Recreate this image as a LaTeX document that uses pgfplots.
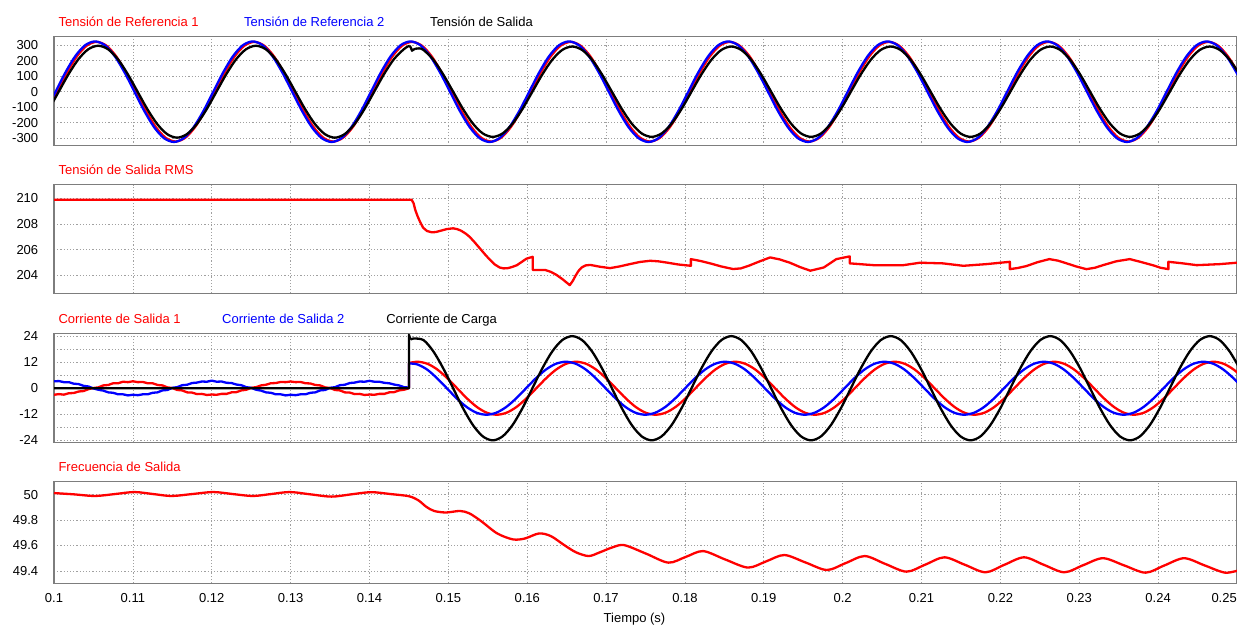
\documentclass[border=0pt]{standalone}
\usepackage{pgfplots}
\pgfplotsset{compat=1.18}
\usepackage{fontspec}
\setmainfont{Liberation Sans}
\definecolor{gridc}{RGB}{160,160,160}
\definecolor{framec}{RGB}{125,125,125}
\pgfplotsset{
  panel/.style={
    scale only axis, width=1183pt, xmin=100, xmax=250,
    anchor=north west,
    xtick={100,110,...,240}, xticklabels=\empty,
    grid=major,
    major grid style={gridc, line width=0.7pt, dash pattern=on 1.2pt off 2pt},
    minor grid style={gridc, line width=0.7pt, dash pattern=on 1.2pt off 2pt},
    major tick length=0pt, minor tick length=0pt,
    axis line style={framec, line width=1.3pt},
    tick label style={font=\fontsize{13}{13}\selectfont, inner sep=0pt},
    yticklabel style={anchor=east, xshift=-15.6pt},
    /pgf/number format/assume math mode=true,
  },
  ln/.style={line width=2.3pt, line join=round},
}
\newcommand{\tf}{\fontsize{13}{15}\selectfont}
\begin{document}
\begin{tikzpicture}
\useasboundingbox (0pt,0pt) rectangle (1237pt,-624pt);

% ---------------- Panel 1 ----------------
\begin{axis}[panel, at={(54pt,-36.3pt)}, height=109.4pt,
  ymin=-349, ymax=358, ytick={-300,-200,...,300}]
\addplot[ln, red, smooth] coordinates {
(99.15,-123.2)(100.4,0)(101.65,123.2)(102.9,227.7)(104.15,297.5)(105.4,322)(106.65,297.5)(107.9,227.7)(109.15,123.2)(110.4,0)(111.65,-123.2)(112.9,-227.7)(114.15,-297.5)(115.4,-322)(116.65,-297.5)(117.9,-227.7)(119.15,-123.2)
(120.4,0)(121.65,123.2)(122.9,227.7)(124.15,297.5)(125.4,322)(126.65,297.5)(127.9,227.7)(129.15,123.2)(130.4,0)(131.65,-123.2)(132.9,-227.7)(134.15,-297.5)(135.4,-322)(136.65,-297.5)(137.9,-227.7)(139.15,-123.2)
(140.4,0)(141.65,123.2)(142.9,227.7)(144.15,297.5)(145.4,322)(146.65,297.5)(147.9,227.7)(149.15,123.2)(150.41,0)(151.66,-123.2)(152.92,-227.7)(154.17,-297.5)(155.43,-322)(156.68,-297.5)(157.94,-227.7)(159.2,-123.2)
(160.46,0)(161.72,123.2)(162.98,227.7)(164.24,297.5)(165.5,322)(166.76,297.5)(168.02,227.7)(169.28,123.2)(170.54,0)(171.8,-123.2)(173.06,-227.7)(174.32,-297.5)(175.58,-322)(176.84,-297.5)(178.11,-227.7)(179.37,-123.2)
(180.63,0)(181.89,123.2)(183.16,227.7)(184.42,297.5)(185.68,322)(186.94,297.5)(188.21,227.7)(189.47,123.2)(190.73,0)(191.99,-123.2)(193.26,-227.7)(194.52,-297.5)(195.79,-322)(197.05,-297.5)(198.31,-227.7)(199.58,-123.2)
(200.84,0)(202.1,123.2)(203.37,227.7)(204.63,297.5)(205.9,322)(207.16,297.5)(208.42,227.7)(209.69,123.2)(210.95,0)(212.21,-123.2)(213.48,-227.7)(214.74,-297.5)(216.01,-322)(217.27,-297.5)(218.53,-227.7)(219.8,-123.2)
(221.06,0)(222.32,123.2)(223.59,227.7)(224.85,297.5)(226.12,322)(227.38,297.5)(228.64,227.7)(229.91,123.2)(231.17,0)(232.43,-123.2)(233.7,-227.7)(234.96,-297.5)(236.23,-322)(237.49,-297.5)(238.75,-227.7)(240.02,-123.2)
(241.28,0)(242.54,123.2)(243.81,227.7)(245.07,297.5)(246.34,322)(247.6,297.5)(248.86,227.7)(250.13,123.2)(251.39,0)};
\addplot[ln, blue, smooth] coordinates {
(98.95,-124.4)(100.2,0)(101.45,124.4)(102.7,229.8)(103.95,300.3)(105.2,325)(106.45,300.3)(107.7,229.8)(108.95,124.4)(110.2,0)(111.45,-124.4)(112.7,-229.8)(113.95,-300.3)(115.2,-325)(116.45,-300.3)(117.7,-229.8)(118.95,-124.4)
(120.2,0)(121.45,124.4)(122.7,229.8)(123.95,300.3)(125.2,325)(126.45,300.3)(127.7,229.8)(128.95,124.4)(130.2,0)(131.45,-124.4)(132.7,-229.8)(133.95,-300.3)(135.2,-325)(136.45,-300.3)(137.7,-229.8)(138.95,-124.4)
(140.2,0)(141.45,124.4)(142.7,229.8)(143.95,300.3)(145.2,325)(146.45,300.3)(147.7,229.8)(148.95,124.4)(150.21,0)(151.46,-124.4)(152.72,-229.8)(153.97,-300.3)(155.23,-325)(156.48,-300.3)(157.74,-229.8)(159.0,-124.4)
(160.26,0)(161.52,124.4)(162.78,229.8)(164.04,300.3)(165.3,325)(166.56,300.3)(167.82,229.8)(169.08,124.4)(170.34,0)(171.6,-124.4)(172.86,-229.8)(174.12,-300.3)(175.38,-325)(176.64,-300.3)(177.91,-229.8)(179.17,-124.4)
(180.43,0)(181.69,124.4)(182.96,229.8)(184.22,300.3)(185.48,325)(186.74,300.3)(188.01,229.8)(189.27,124.4)(190.53,0)(191.79,-124.4)(193.06,-229.8)(194.32,-300.3)(195.59,-325)(196.85,-300.3)(198.11,-229.8)(199.38,-124.4)
(200.64,0)(201.9,124.4)(203.17,229.8)(204.43,300.3)(205.7,325)(206.96,300.3)(208.22,229.8)(209.49,124.4)(210.75,0)(212.01,-124.4)(213.28,-229.8)(214.54,-300.3)(215.81,-325)(217.07,-300.3)(218.33,-229.8)(219.6,-124.4)
(220.86,0)(222.12,124.4)(223.39,229.8)(224.65,300.3)(225.92,325)(227.18,300.3)(228.44,229.8)(229.71,124.4)(230.97,0)(232.23,-124.4)(233.5,-229.8)(234.76,-300.3)(236.03,-325)(237.29,-300.3)(238.55,-229.8)(239.82,-124.4)
(241.08,0)(242.34,124.4)(243.61,229.8)(244.87,300.3)(246.14,325)(247.4,300.3)(248.66,229.8)(249.93,124.4)(251.19,0)};
\addplot[ln, black, smooth] coordinates {
(99.35,-113.7)(100.6,0)(101.85,113.7)(103.1,210)(104.35,274.4)(105.6,297)(106.85,274.4)(108.1,210)(109.35,113.7)(110.6,0)(111.85,-113.7)(113.1,-210)(114.35,-274.4)(115.6,-297)(116.85,-274.4)(118.1,-210)(119.35,-113.7)
(120.6,0)(121.85,113.7)(123.1,210)(124.35,274.4)(125.6,297)(126.85,274.4)(128.1,210)(129.35,113.7)(130.6,0)(131.85,-113.7)(133.1,-210)(134.35,-274.4)(135.6,-297)(136.85,-274.4)(138.1,-210)(139.35,-113.7)
(140.6,0)(141.85,113.7)(143.1,210)(144.35,274.4)(144.9,293)(145.1,297)};
\addplot[ln, black] coordinates {(145.1,297)(145.25,284)(145.4,265)(145.55,271)(145.8,277)};
\addplot[ln, black, smooth] coordinates {
(145.8,277)(146.3,280)(146.85,269.8)(148.1,206.5)(149.35,111.7)(150.61,0)(151.86,-111.7)(153.12,-206.5)(154.37,-269.8)(155.63,-292)(156.88,-269.8)(158.14,-206.5)(159.4,-111.7)
(160.66,0)(161.92,111.7)(163.18,206.5)(164.44,269.8)(165.7,292)(166.96,269.8)(168.22,206.5)(169.48,111.7)(170.74,0)(172.0,-111.7)(173.26,-206.5)(174.52,-269.8)(175.78,-292)(177.04,-269.8)(178.31,-206.5)(179.57,-111.7)
(180.83,0)(182.09,111.7)(183.36,206.5)(184.62,269.8)(185.88,292)(187.14,269.8)(188.41,206.5)(189.67,111.7)(190.93,0)(192.19,-111.7)(193.46,-206.5)(194.72,-269.8)(195.99,-292)(197.25,-269.8)(198.51,-206.5)(199.78,-111.7)
(201.04,0)(202.3,111.7)(203.57,206.5)(204.83,269.8)(206.1,292)(207.36,269.8)(208.62,206.5)(209.89,111.7)(211.15,0)(212.41,-111.7)(213.68,-206.5)(214.94,-269.8)(216.21,-292)(217.47,-269.8)(218.73,-206.5)(220.0,-111.7)
(221.26,0)(222.52,111.7)(223.79,206.5)(225.05,269.8)(226.32,292)(227.58,269.8)(228.84,206.5)(230.11,111.7)(231.37,0)(232.63,-111.7)(233.9,-206.5)(235.16,-269.8)(236.43,-292)(237.69,-269.8)(238.95,-206.5)(240.22,-111.7)
(241.48,0)(242.74,111.7)(244.01,206.5)(245.27,269.8)(246.54,292)(247.8,269.8)(249.06,206.5)(250.33,111.7)};
\end{axis}

% ---------------- Panel 2 ----------------
\begin{axis}[panel, at={(54pt,-184.5pt)}, height=109pt,
  ymin=202.6, ymax=211.06, ytick={204,206,208,210}]
\addplot[ln, red] coordinates {
(100,209.87)(145.35,209.87)(145.6,209.6)(145.8,209.1)(146.1,208.6)(146.4,208.18)(146.8,207.71)(147.3,207.45)(147.9,207.35)(148.4,207.37)(148.9,207.45)(149.8,207.6)(150.6,207.66)(151.1,207.6)(151.6,207.48)(152.2,207.25)(152.7,207.0)(153.3,206.6)(154.0,206.1)(154.7,205.6)(155.3,205.2)(155.9,204.85)(156.5,204.62)(157.0,204.55)(157.5,204.56)(158.1,204.66)(158.7,204.8)(159.3,205.05)(159.9,205.3)(160.7,205.45)
(160.7,204.42)(162.3,204.42)(163.0,204.28)(163.7,204.05)(164.5,203.7)(165.4,203.25)(165.8,203.6)(166.1,203.95)(166.5,204.35)(166.9,204.62)(167.4,204.78)(168.0,204.82)(169.2,204.68)(170.5,204.57)(171.7,204.7)(173.0,204.88)(174.3,205.05)(175.6,205.14)(176.6,205.1)(177.7,205.0)(179.2,204.85)(180.75,204.75)
(180.75,205.27)(182.0,205.12)(183.2,204.94)(184.6,204.7)(186.1,204.5)(187.1,204.55)(188.2,204.78)(189.5,205.1)(190.8,205.4)(192.0,205.25)(193.3,204.99)(194.6,204.65)(195.9,204.37)(197.6,204.62)(199.2,205.27)(200.9,205.48)
(200.9,204.94)(203.9,204.8)(207.7,204.8)(209.8,204.99)(212.7,204.94)(215.3,204.75)(218.2,204.88)(221.2,205.06)
(221.2,204.49)(222.2,204.58)(223.3,204.73)(224.7,205.03)(226.2,205.27)(227.3,205.15)(228.4,204.94)(229.6,204.7)(230.9,204.49)(232.0,204.6)(233.0,204.8)(234.7,205.1)(236.4,205.27)(237.8,205.05)(239.3,204.8)(240.3,204.6)(241.3,204.49)
(241.3,205.06)(243.0,204.95)(244.9,204.8)(247.8,204.88)(250.0,204.99)};
\end{axis}

% ---------------- Panel 3 ----------------
\begin{axis}[panel, at={(54pt,-333.3pt)}, height=109pt,
  ymin=-24.9, ymax=25.3, ytick={-24,-12,0,12,24}, minor ytick={-18,-6,6,18}, grid=both]
\addplot[ln, red] coordinates {
(100,-3.0)(100.63,-2.7)(101.25,-2.95)(101.88,-2.3)(102.5,-2.2)(103.13,-1.5)(103.75,-1.3)(104.38,-0.4)(105,0.1)(105.63,0.4)(106.25,1.3)(106.88,1.5)(107.5,2.3)(108.13,2.3)(108.75,3.0)(109.38,2.8)(110,3.2)(110.63,2.8)(111.25,2.9)(111.88,2.3)(112.5,2.3)(113.13,1.5)(113.75,1.3)(114.38,0.4)(115,0.1)(115.63,-0.8)(116.25,-1.0)(116.88,-1.9)(117.5,-2.0)(118.13,-2.7)(118.75,-2.6)(119.38,-3.1)
(120,-2.9)(120.63,-3.0)(121.25,-2.6)(121.88,-2.6)(122.5,-1.9)(123.13,-1.8)(123.75,-1.0)(124.38,-0.7)(125,0.2)(125.63,0.5)(126.25,1.3)(126.88,1.6)(127.5,2.3)(128.13,2.4)(128.75,2.9)(129.38,2.8)(130,3.1)(130.63,2.8)(131.25,2.9)(131.88,2.3)(132.5,2.2)(133.13,1.5)(133.75,1.3)(134.38,0.4)(135,0.1)(135.63,-0.8)(136.25,-1.0)(136.88,-1.9)(137.5,-2.0)(138.13,-2.7)(138.75,-2.6)(139.38,-3.1)
(140,-2.9)(140.63,-3.0)(141.25,-2.6)(141.88,-2.6)(142.5,-1.9)(143.13,-1.8)(143.75,-1.0)(144.38,-0.7)(145,0)(145,11.6)};
\addplot[ln, red, smooth] coordinates {
(145,11.6)(146.1,12.2)(147.35,11.27)(148.6,8.63)(149.85,4.67)(151.11,0)(152.36,-4.67)(153.62,-8.63)(154.87,-11.27)(156.13,-12.2)(157.38,-11.27)(158.64,-8.63)(159.9,-4.67)(161.16,0)(162.42,4.67)(163.68,8.63)(164.94,11.27)(166.2,12.2)(167.46,11.27)(168.72,8.63)(169.98,4.67)(171.24,0)(172.5,-4.67)(173.76,-8.63)(175.02,-11.27)(176.28,-12.2)(177.54,-11.27)(178.81,-8.63)(180.07,-4.67)
(181.33,0)(182.59,4.67)(183.86,8.63)(185.12,11.27)(186.38,12.2)(187.64,11.27)(188.91,8.63)(190.17,4.67)(191.43,0)(192.69,-4.67)(193.96,-8.63)(195.22,-11.27)(196.49,-12.2)(197.75,-11.27)(199.01,-8.63)(200.28,-4.67)(201.54,0)(202.8,4.67)(204.07,8.63)(205.33,11.27)(206.6,12.2)(207.86,11.27)(209.12,8.63)(210.39,4.67)(211.65,0)(212.91,-4.67)(214.18,-8.63)(215.44,-11.27)(216.71,-12.2)(217.97,-11.27)(219.23,-8.63)(220.5,-4.67)
(221.76,0)(223.02,4.67)(224.29,8.63)(225.55,11.27)(226.82,12.2)(228.08,11.27)(229.34,8.63)(230.61,4.67)(231.87,0)(233.13,-4.67)(234.4,-8.63)(235.66,-11.27)(236.93,-12.2)(238.19,-11.27)(239.45,-8.63)(240.72,-4.67)(241.98,0)(243.24,4.67)(244.51,8.63)(245.77,11.27)(247.04,12.2)(248.3,11.27)(249.56,8.63)(250.83,4.67)};
\addplot[ln, blue] coordinates {
(100,3.2)(100.63,3.3)(101.25,2.8)(101.88,2.8)(102.5,2.1)(103.13,1.9)(103.75,1.1)(104.38,0.8)(105,-0.1)(105.63,-0.7)(106.25,-1.1)(106.88,-1.9)(107.5,-2.1)(108.13,-2.8)(108.75,-2.8)(109.38,-3.3)(110,-3.0)(110.63,-3.2)(111.25,-2.8)(111.88,-2.8)(112.5,-2.1)(113.13,-1.9)(113.75,-1.0)(114.38,-0.8)(115,0.2)(115.63,0.5)(116.25,1.4)(116.88,1.6)(117.5,2.4)(118.13,2.6)(118.75,3.1)(119.38,3.0)
(120,3.5)(120.63,3.0)(121.25,3.1)(121.88,2.5)(122.5,2.4)(123.13,1.7)(123.75,1.4)(124.38,0.5)(125,0.2)(125.63,-0.7)(126.25,-1.1)(126.88,-1.9)(127.5,-2.1)(128.13,-2.8)(128.75,-2.8)(129.38,-3.3)(130,-3.0)(130.63,-3.2)(131.25,-2.8)(131.88,-2.8)(132.5,-2.1)(133.13,-1.9)(133.75,-1.0)(134.38,-0.8)(135,0.2)(135.63,0.5)(136.25,1.4)(136.88,1.6)(137.5,2.4)(138.13,2.6)(138.75,3.1)(139.38,3.0)
(140,3.4)(140.63,3.0)(141.25,3.0)(141.88,2.5)(142.5,2.3)(143.13,1.7)(143.75,1.3)(144.38,0.5)(145,0.3)(145,11.4)};
\addplot[ln, blue, smooth] coordinates {
(145,11.4)(146.05,11.0)(147.3,8.63)(148.55,4.67)(149.81,0)(151.06,-4.67)(152.32,-8.63)(153.57,-11.27)(154.83,-12.2)(156.08,-11.27)(157.34,-8.63)(158.6,-4.67)(159.86,0)(161.12,4.67)(162.38,8.63)(163.64,11.27)(164.9,12.2)(166.16,11.27)(167.42,8.63)(168.68,4.67)(169.94,0)(171.2,-4.67)(172.46,-8.63)(173.72,-11.27)(174.98,-12.2)(176.24,-11.27)(177.51,-8.63)(178.77,-4.67)
(180.03,0)(181.29,4.67)(182.56,8.63)(183.82,11.27)(185.08,12.2)(186.34,11.27)(187.61,8.63)(188.87,4.67)(190.13,0)(191.39,-4.67)(192.66,-8.63)(193.92,-11.27)(195.19,-12.2)(196.45,-11.27)(197.71,-8.63)(198.98,-4.67)(200.24,0)(201.5,4.67)(202.77,8.63)(204.03,11.27)(205.3,12.2)(206.56,11.27)(207.82,8.63)(209.09,4.67)(210.35,0)(211.61,-4.67)(212.88,-8.63)(214.14,-11.27)(215.41,-12.2)(216.67,-11.27)(217.93,-8.63)(219.2,-4.67)
(220.46,0)(221.72,4.67)(222.99,8.63)(224.25,11.27)(225.52,12.2)(226.78,11.27)(228.04,8.63)(229.31,4.67)(230.57,0)(231.83,-4.67)(233.1,-8.63)(234.36,-11.27)(235.63,-12.2)(236.89,-11.27)(238.15,-8.63)(239.42,-4.67)(240.68,0)(241.94,4.67)(243.21,8.63)(244.47,11.27)(245.74,12.2)(247.0,11.27)(248.26,8.63)(249.53,4.67)(250.79,0)};
\addplot[ln, black] coordinates {(100,0)(145,0)(145,24.6)(145.2,22.4)};
\addplot[ln, black, smooth] coordinates {
(145.2,22.4)(145.6,22.9)(146.85,22.17)(148.1,16.97)(149.35,9.18)(150.61,0)(151.86,-9.18)(153.12,-16.97)(154.37,-22.17)(155.63,-24)(156.88,-22.17)(158.14,-16.97)(159.4,-9.18)
(160.66,0)(161.92,9.18)(163.18,16.97)(164.44,22.17)(165.7,24)(166.96,22.17)(168.22,16.97)(169.48,9.18)(170.74,0)(172.0,-9.18)(173.26,-16.97)(174.52,-22.17)(175.78,-24)(177.04,-22.17)(178.31,-16.97)(179.57,-9.18)
(180.83,0)(182.09,9.18)(183.36,16.97)(184.62,22.17)(185.88,24)(187.14,22.17)(188.41,16.97)(189.67,9.18)(190.93,0)(192.19,-9.18)(193.46,-16.97)(194.72,-22.17)(195.99,-24)(197.25,-22.17)(198.51,-16.97)(199.78,-9.18)
(201.04,0)(202.3,9.18)(203.57,16.97)(204.83,22.17)(206.1,24)(207.36,22.17)(208.62,16.97)(209.89,9.18)(211.15,0)(212.41,-9.18)(213.68,-16.97)(214.94,-22.17)(216.21,-24)(217.47,-22.17)(218.73,-16.97)(220.0,-9.18)
(221.26,0)(222.52,9.18)(223.79,16.97)(225.05,22.17)(226.32,24)(227.58,22.17)(228.84,16.97)(230.11,9.18)(231.37,0)(232.63,-9.18)(233.9,-16.97)(235.16,-22.17)(236.43,-24)(237.69,-22.17)(238.95,-16.97)(240.22,-9.18)
(241.48,0)(242.74,9.18)(244.01,16.97)(245.27,22.17)(246.54,24)(247.8,22.17)(249.06,16.97)(250.33,9.18)};
\end{axis}

% ---------------- Panel 4 ----------------
\begin{axis}[panel, at={(54pt,-481.5pt)}, height=101.7pt,
  ymin=49.303, ymax=50.104, ytick={49.4,49.6,49.8,50},
  xticklabels={0.1,0.11,0.12,0.13,0.14,0.15,0.16,0.17,0.18,0.19,0.2,0.21,0.22,0.23,0.24},
  xticklabel style={anchor=north, yshift=-10pt},
  extra x ticks={250}, extra x tick labels={0.25},
  extra x tick style={grid=none, xticklabel style={anchor=north east}}]
\addplot[ln, red, smooth] coordinates {
(100,50.013)(102.5,50.003)(105.2,49.990)(107.7,50.005)(110.2,50.021)(112.6,50.005)(114.9,49.990)(117.5,50.005)(120.2,50.021)(122.7,50.005)(125.2,49.990)(127.5,50.005)(129.9,50.021)(132.5,50.003)(135.2,49.985)(137.7,50.003)(140.2,50.020)(142.7,50.005)(145.0,49.988)
(146.2,49.956)(147.2,49.905)(148.2,49.872)(149.7,49.860)(151.5,49.872)(152.7,49.852)(154.2,49.79)(156.2,49.695)(158.2,49.648)(159.7,49.655)(161.5,49.695)(163.0,49.674)(164.7,49.603)(166.2,49.546)(167.8,49.517)(169.2,49.546)(170.8,49.585)(172.3,49.603)
(175.1,49.535)(177.9,49.465)(180.1,49.51)(182.3,49.556)(185.1,49.49)(188.0,49.426)(190.3,49.475)(192.6,49.525)(195.3,49.466)(198.0,49.407)(200.4,49.462)(202.8,49.517)(205.4,49.455)(208.1,49.394)(210.5,49.45)(212.9,49.507)(215.5,49.448)(218.1,49.389)
(220.5,49.448)(223.0,49.507)(225.5,49.448)(228.1,49.389)(230.5,49.445)(233.0,49.5)(235.7,49.443)(238.4,49.386)(240.8,49.443)(243.3,49.5)(245.9,49.443)(248.5,49.386)(250.5,49.41)};
\end{axis}

% ---------------- Titles ----------------
\node[anchor=base west, text=red, font=\tf] at (55pt,-26pt) {Tensión de Referencia 1};
\node[anchor=base west, text=blue, font=\tf] at (240.7pt,-26pt) {Tensión de Referencia 2};
\node[anchor=base west, text=black, font=\tf] at (426.7pt,-26pt) {Tensión de Salida};
\node[anchor=base west, text=red, font=\tf] at (55pt,-174.2pt) {Tensión de Salida RMS};
\node[anchor=base west, text=red, font=\tf] at (55pt,-323pt) {Corriente de Salida 1};
\node[anchor=base west, text=blue, font=\tf] at (218.7pt,-323pt) {Corriente de Salida 2};
\node[anchor=base west, text=black, font=\tf] at (382.8pt,-323pt) {Corriente de Carga};
\node[anchor=base west, text=red, font=\tf] at (55pt,-471.2pt) {Frecuencia de Salida};
\node[anchor=base, font=\tf] at (634.5pt,-622pt) {Tiempo (s)};
\end{tikzpicture}
\end{document}
